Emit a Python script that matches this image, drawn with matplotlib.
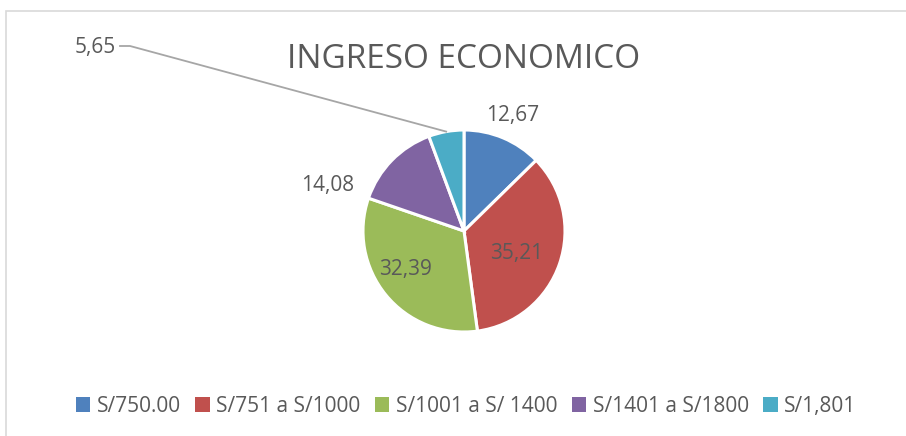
import matplotlib.pyplot as plt
from matplotlib.patches import Rectangle, Patch
import numpy as np

# -------------------------------
# Datos
# -------------------------------
categorias = ["S/750.00", "S/751 a S/1000", "S/1001 a S/ 1400", "S/1401 a S/1800", "S/1,801"]
porcentajes = [12.67, 35.21, 32.39, 14.08, 5.65]
etiquetas = ["12,67", "35,21", "32,39", "14,08", "5,65"]
colores = ["#4F81BD", "#C0504D", "#9BBB59", "#8064A2", "#4BACC6"]

plt.rcParams['font.family'] = ['Liberation Sans Narrow', 'Open Sans', 'DejaVu Sans']
gris = "#595959"

W, H = 906, 436
fig = plt.figure(figsize=(W / 100, H / 100), dpi=100)
ax = fig.add_axes([0, 0, 1, 1])
ax.set_xlim(0, W)
ax.set_ylim(0, H)
ax.set_aspect('equal')
ax.axis('off')

# borde del grafico
ax.add_patch(Rectangle((6, -20), W, H - 11 + 20, fill=False, edgecolor="#D9D9D9", linewidth=1.2))

cx, cy, r = 464, H - 231, 101
wedges, _ = ax.pie(porcentajes, colors=colores, startangle=90, counterclock=False,
                   center=(cx, cy), radius=r, frame=True,
                   wedgeprops=dict(edgecolor="white", linewidth=2.2))
ax.set_xlim(0, W)
ax.set_ylim(0, H)
ax.axis('off')

# posiciones de etiquetas (pixeles)
pos_etiquetas = [(513, 115), (517, 254), (405, 269), (328, 186), (95, 48)]
for txt, (x, y) in zip(etiquetas, pos_etiquetas):
    ax.text(x, H - y, txt, ha="center", va="center", fontsize=15, color=gris)

# linea guia para 5,65
w = wedges[4]
ang = np.deg2rad((w.theta1 + w.theta2) / 2)
px, py = cx + r * np.cos(ang), cy + r * np.sin(ang)
ax.plot([120, 130, px], [H - 46, H - 46, py], color="#A6A6A6", linewidth=1.3)

ax.text(464, H - 60, "INGRESO ECONOMICO", ha="center", va="center", fontsize=24, color=gris)

handles = [Patch(facecolor=c, edgecolor="none") for c in colores]
fig.legend(handles, categorias, loc="center", bbox_to_anchor=(466 / W, 1 - 406 / H),
           ncol=5, frameon=False, fontsize=15, labelcolor=gris,
           handlelength=0.7, handleheight=0.7, handletextpad=0.3, columnspacing=0.7)

fig.savefig("out.png", dpi=100)
